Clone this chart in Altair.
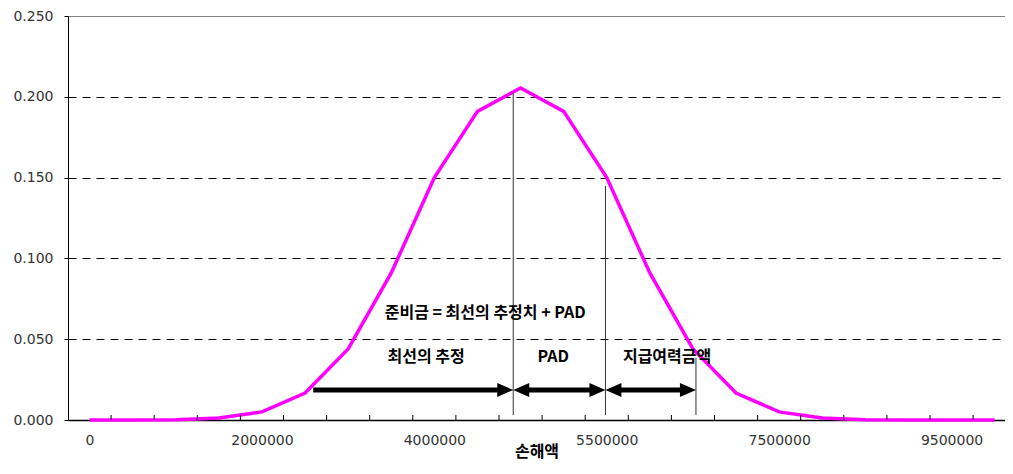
import altair as alt
import pandas as pd

# categories (loss amounts) and the density of each
loss_values = [0, 500000, 1000000, 1500000, 2000000, 2500000, 3000000, 3500000,
               4000000, 4500000, 4750000, 5000000, 5500000, 6000000, 6500000,
               7000000, 7500000, 8000000, 8500000, 9000000, 9500000, 10000000]
density = [0.0, 0.0, 0.0002, 0.0013, 0.005, 0.0167, 0.044, 0.091, 0.150, 0.191,
           0.2054, 0.191, 0.150, 0.091, 0.044, 0.0167, 0.005, 0.0013, 0.0002,
           0.0, 0.0, 0.0]
label_every = 4
y_ticks = [0.0, 0.05, 0.10, 0.15, 0.20, 0.25]

# annotation markers (in category units / density units)
marker_x = [9.83, 11.97, 14.07]
marker_top = [0.2024, 0.1448, 0.0384]
marker_bottom = 0.0031

arrow_start = [5.19, 9.83, 11.97]
arrow_end = [9.83, 11.97, 14.07]
arrow_left_head = [False, True, True]
arrow_y = 0.0186

note_text = ["준비금 = 최선의 추정치 + PAD", "최선의 추정", "PAD", "지급여력금액"]
note_x = [9.18, 7.81, 10.76, 13.40]
note_y = [0.0662, 0.039, 0.039, 0.039]

W, H = 937, 404
n = len(loss_values)
x_dom = [-0.5, -0.5 + W / 43.1]
xs = alt.Scale(domain=x_dom, nice=False, zero=False)
ys = alt.Scale(domain=[0, 0.25], nice=False)

df = pd.DataFrame({"idx": list(range(n)), "density": density})
label_arr = "[" + ",".join(f"'{v}'" for v in loss_values) + "]"

x_axis = alt.Axis(values=list(range(0, n, label_every)), labelExpr=f"{label_arr}[datum.value]",
                  ticks=False, grid=False, domainColor="black", domainWidth=1.5,
                  labelFont="DejaVu Sans", labelFontSize=14, labelColor="#333",
                  labelPadding=13, title="손해액", titleFont="Noto Sans CJK KR",
                  titleFontSize=16, titleFontWeight="bold", titleColor="black",
                  titleY=31, titleBaseline="middle")
y_axis = alt.Axis(values=y_ticks, format=".3f", tickSize=4, tickColor="black",
                  domainColor="black", labelFont="DejaVu Sans", labelFontSize=14,
                  labelColor="#333", labelPadding=11, title=None, grid=True,
                  gridColor={"condition": {"test": "datum.value > 0.24", "value": "#808080"}, "value": "black"},
                  gridDash={"condition": {"test": "datum.value > 0.24", "value": []}, "value": [8, 6]},
                  gridWidth=1)

line = alt.Chart(df).mark_line(color="#FF00FF", strokeWidth=3.5).encode(
    x=alt.X("idx:Q", scale=xs, axis=x_axis),
    y=alt.Y("density:Q", scale=ys, axis=y_axis),
)

tick_df = pd.DataFrame({"t": [i + 0.5 for i in range(n)]})
ticks = alt.Chart(tick_df).mark_rule(color="black", strokeWidth=1).encode(
    x=alt.X("t:Q", scale=xs), y=alt.value(H), y2=alt.value(H - 5))

mk_df = pd.DataFrame({"x": marker_x, "top": marker_top, "bot": [marker_bottom] * 3})
markers = alt.Chart(mk_df).mark_rule(color="#333", strokeWidth=1).encode(
    x=alt.X("x:Q", scale=xs), y=alt.Y("bot:Q", scale=ys), y2="top:Q")

shaft_rows = []
head_rows = []
trim = 0.25
for s, e, lh in zip(arrow_start, arrow_end, arrow_left_head):
    shaft_rows.append({"x1": s + (trim if lh else 0), "x2": e - trim, "y": arrow_y})
    head_rows.append({"x": e, "y": arrow_y, "dir": "right"})
    if lh:
        head_rows.append({"x": s, "y": arrow_y, "dir": "left"})
shafts = alt.Chart(pd.DataFrame(shaft_rows)).mark_rule(color="black", strokeWidth=5, strokeCap="butt").encode(
    x=alt.X("x1:Q", scale=xs), x2="x2:Q", y=alt.Y("y:Q", scale=ys))

hdf = pd.DataFrame(head_rows)
right_heads = alt.Chart(hdf[hdf["dir"] == "right"]).mark_point(
    shape="M0,0L-2,-0.875L-2,0.875Z", size=256, filled=True, color="black", opacity=1).encode(
    x=alt.X("x:Q", scale=xs), y=alt.Y("y:Q", scale=ys))
left_heads = alt.Chart(hdf[hdf["dir"] == "left"]).mark_point(
    shape="M0,0L2,-0.875L2,0.875Z", size=256, filled=True, color="black", opacity=1).encode(
    x=alt.X("x:Q", scale=xs), y=alt.Y("y:Q", scale=ys))

notes = alt.Chart(pd.DataFrame({"t": note_text, "x": note_x, "y": note_y})).mark_text(
    font="Noto Sans CJK KR", fontWeight="bold", fontSize=16, color="black",
    align="center", baseline="middle").encode(
    x=alt.X("x:Q", scale=xs), y=alt.Y("y:Q", scale=ys), text="t:N")

chart = alt.layer(line, ticks, markers, shafts, right_heads, left_heads, notes).properties(
    width=W, height=H,
    autosize=alt.AutoSizeParams(type="none"),
    padding={"left": 60, "top": 8, "right": 0, "bottom": 44},
).configure_view(stroke=None)

chart.save("out.html", embed_options={"renderer": "svg", "actions": False})
